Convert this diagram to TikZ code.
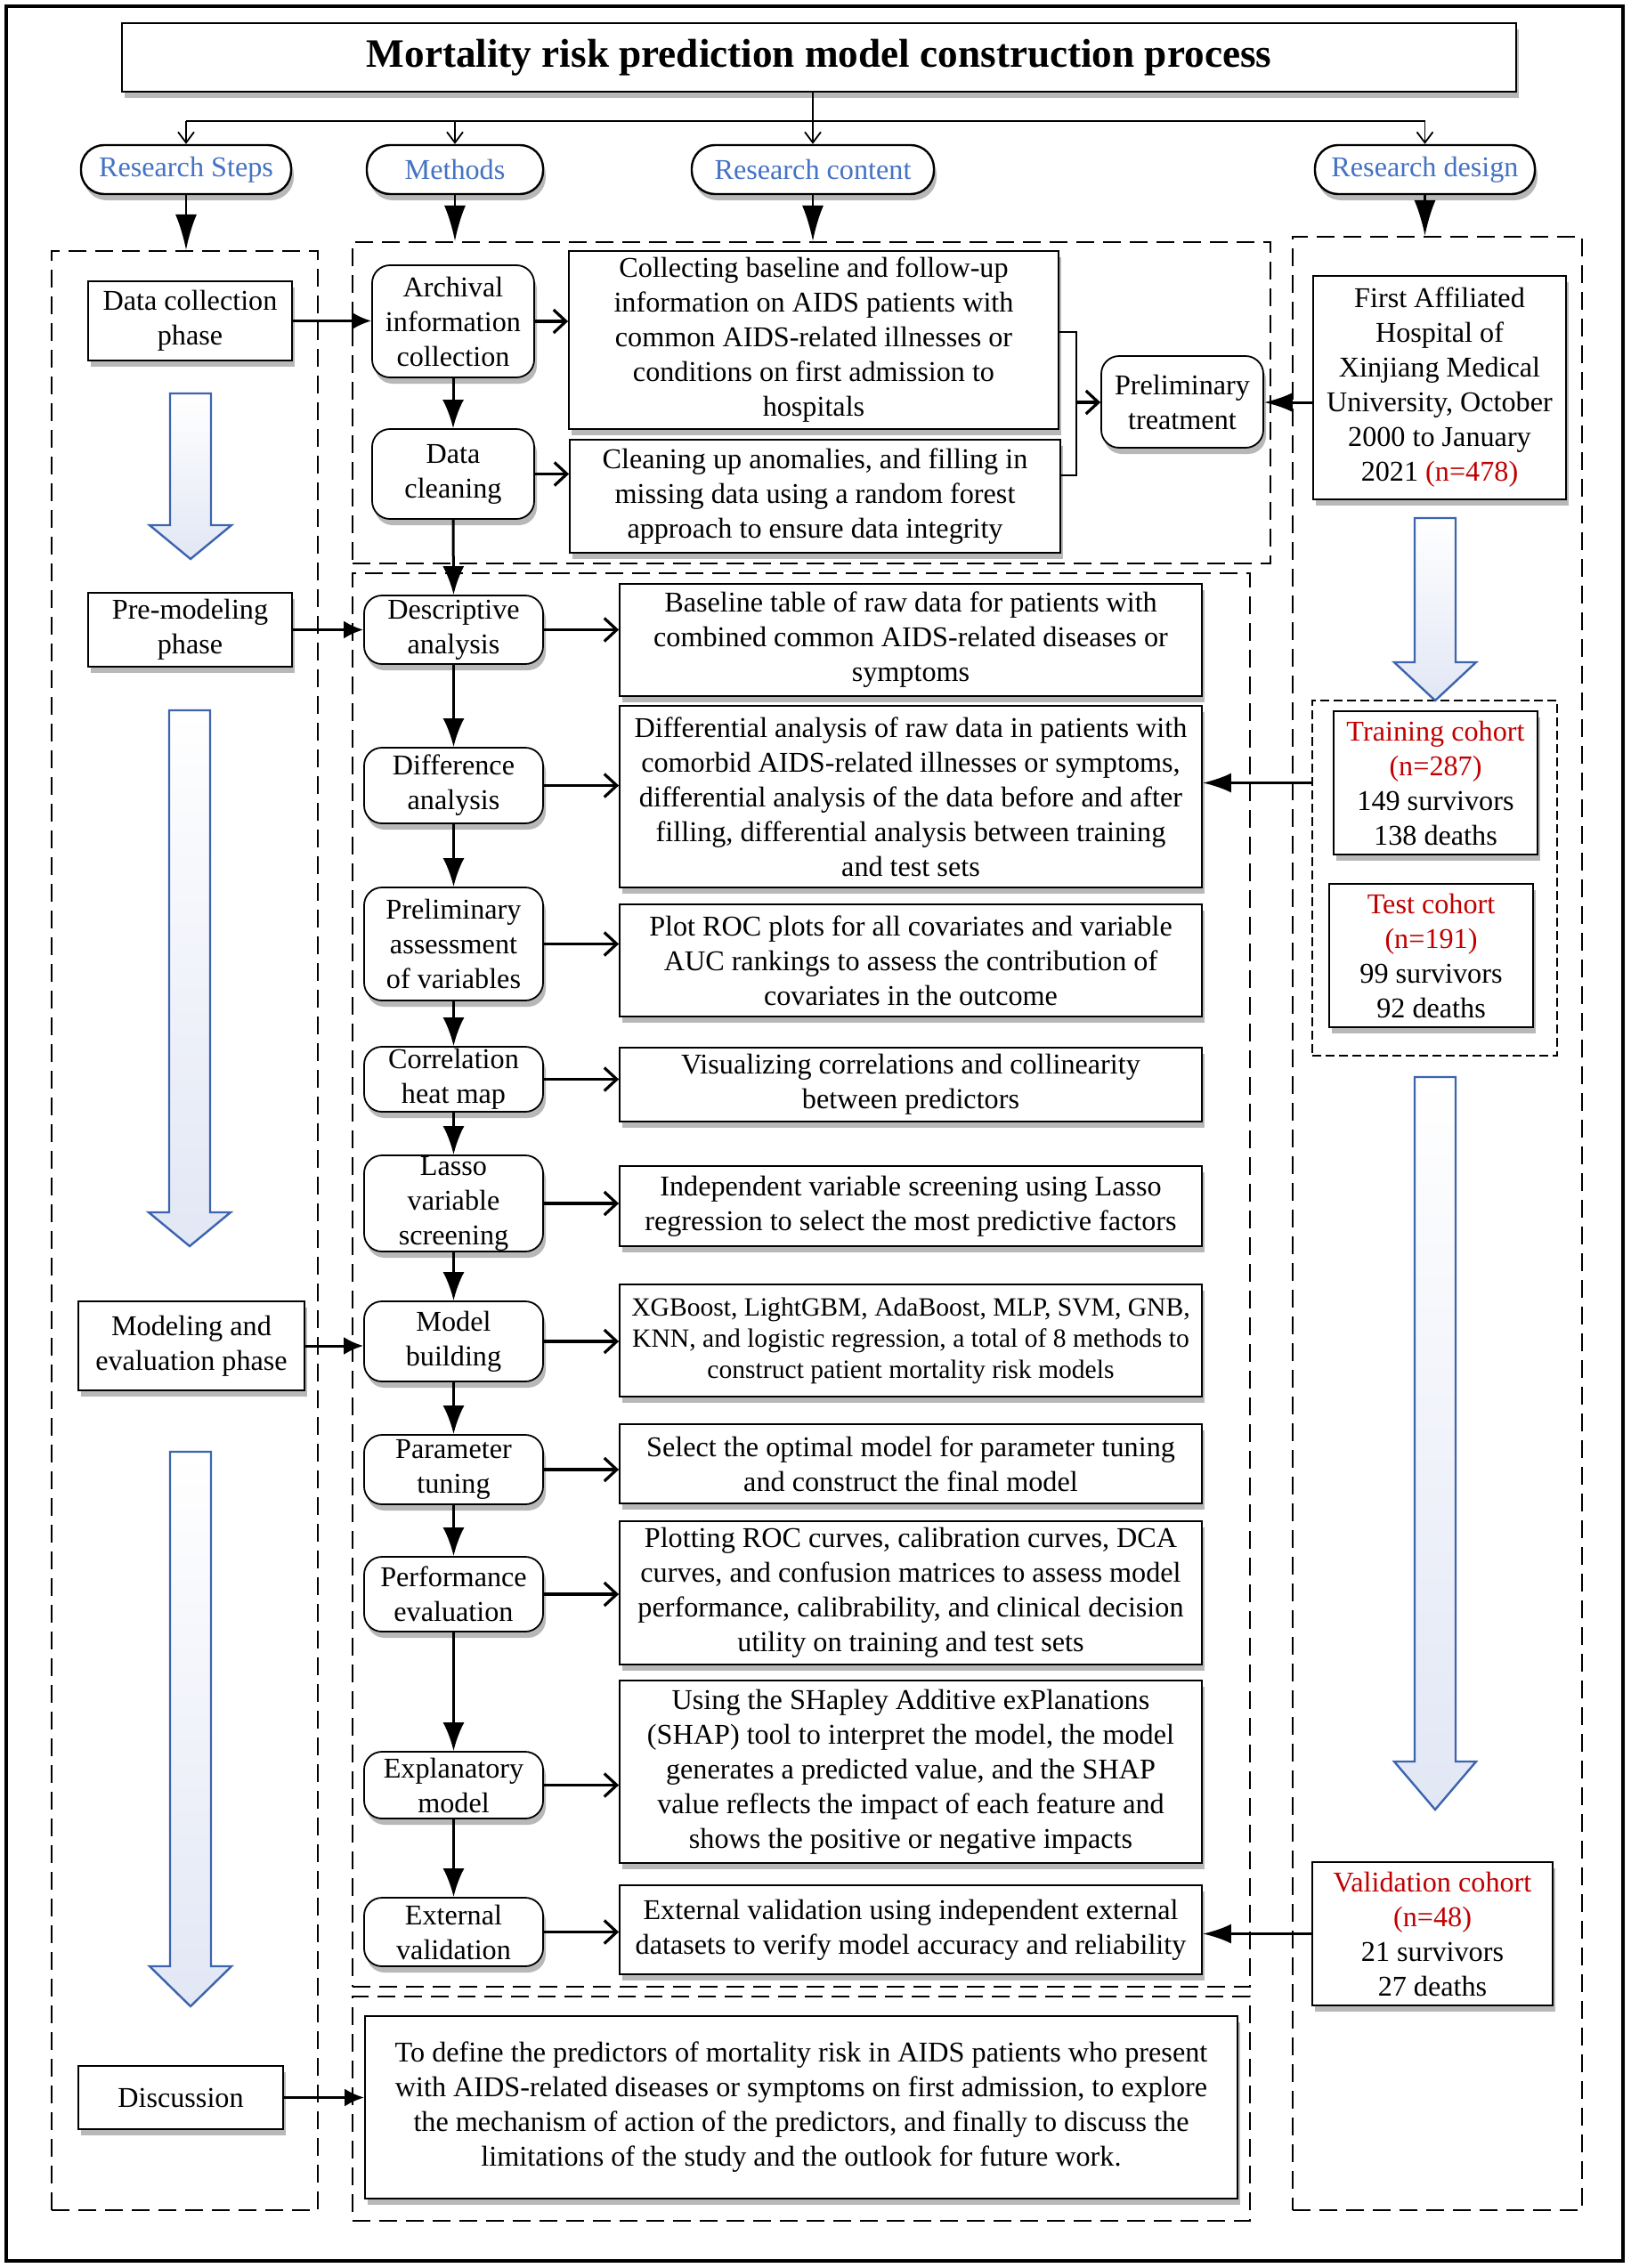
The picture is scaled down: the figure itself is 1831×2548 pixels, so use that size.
\documentclass[tikz,border=0pt]{standalone}
\usepackage{fontspec}
\setmainfont{Liberation Serif}
\usetikzlibrary{arrows.meta,shadows,calc}
\definecolor{pillblue}{RGB}{68,114,196}
\definecolor{darkred}{RGB}{192,0,0}
\definecolor{blkfill}{RGB}{226,231,245}
\definecolor{blkline}{RGB}{60,100,175}
\newcommand{\myblockarrow}[4]{% cx, top, headstart, tip
  \draw[blockarr] (#1-23,#2) -- (#1+23,#2) -- (#1+23,#3) -- (#1+46,#3) -- (#1,#4) -- (#1-46,#3) -- (#1-23,#3) -- cycle;}
\begin{document}
\begin{tikzpicture}[x=0.5pt,y=-0.5pt,
  bx/.style n args={4}{at={({(#1+#3)/2},{(#2+#4)/2})}, anchor=center, minimum width={(#3-#1)*0.5pt}, minimum height={(#4-#2)*0.5pt}},
  base/.style={inner sep=0pt, align=center, font=\fontsize{16.1}{19.5}\selectfont, fill=white, draw=black, line width=0.9pt},
  shad/.style={drop shadow={shadow xshift=1.5pt, shadow yshift=-3.5pt, opacity=0.28, fill=black}},
  cbox/.style={base, shad},
  rbox/.style={base, shad, rounded corners=10pt},
  pill/.style={base, shad, rounded corners=13pt, text=pillblue, line width=1.2pt},
  dbox/.style={draw, inner sep=0pt, line width=1.1pt, dash pattern=on 10pt off 5pt},
  dthin/.style={draw, inner sep=0pt, line width=0.6pt, dash pattern=on 5pt off 2.5pt},
  chain/.style={line width=1.5pt, -{Latex[length=16pt,width=12pt]}},
  toarrow/.style={line width=1.6pt, -{Straight Barb[length=7pt,width=13pt]}},
  feed/.style={line width=1.5pt, -{Latex[length=11pt,width=10pt]}},
  feedR/.style={line width=1.5pt, -{Latex[length=16pt,width=11pt]}},
  downarr/.style={line width=1.2pt, -{Latex[length=20pt,width=12pt]}},
  branch/.style={line width=0.9pt, -{Straight Barb[length=6pt,width=9pt]}},
  blockarr/.style={draw=blkline, line width=1.2pt, top color=white, bottom color=blkfill, line join=miter}
]
\useasboundingbox (0,0) rectangle (1831,2548);
\draw[line width=1.6pt] (7,7) rectangle (1823,2540);

% dashed frames
\node[dbox, bx={58}{282}{357}{2483}] (L) {};
\node[dbox, bx={396}{272}{1427}{633}] (M1) {};
\node[dbox, bx={396}{644}{1404}{2232}] (M2) {};
\node[dbox, bx={396}{2243}{1404}{2495}] (M3) {};
\node[dbox, bx={1452}{266}{1777}{2483}] (R) {};
\node[dthin, bx={1474}{787}{1749}{1186}] (cohort) {};

% title and pills
\node[cbox, bx={137}{26}{1703}{103}, font=\fontsize{22.6}{26}\selectfont\bfseries] (title) {Mortality risk prediction model construction process};
\node[pill, bx={91}{163}{327}{218}] (pRS) {Research Steps};
\node[pill, bx={412}{163}{610}{218}] (pM) {Methods};
\node[pill, bx={777}{163}{1049}{218}] (pRC) {Research content};
\node[pill, bx={1477}{163}{1724}{218}] (pRD) {Research design};

\coordinate (br) at (913,136);
\draw[line width=0.9pt] (pRC.north |- title.south) -- (br);
\draw[line width=1.4pt] (pRS.north |- br) -- (pRD.north |- br);
\draw[branch] (pRS.north |- br) -- (pRS.north);
\draw[branch] (pM.north |- br) -- (pM.north);
\draw[branch] (br) -- (pRC.north);
\draw[branch] (pRD.north |- br) -- (pRD.north);

\draw[downarr] (pRS.south) -- (pRS.south |- L.north);
\draw[downarr] (pM.south) -- (pM.south |- M1.north);
\draw[downarr] (pRC.south) -- (pRC.south |- M1.north);
\draw[downarr] (pRD.south) -- (pRD.south |- R.north);

% left column
\node[cbox, bx={99}{316}{328}{405}] (s1) {Data collection\\phase};
\node[cbox, bx={99}{666}{328}{749}] (s2) {Pre-modeling\\phase};
\node[cbox, bx={88}{1462}{342}{1562}] (s3) {Modeling and\\evaluation phase};
\node[cbox, bx={88}{2321}{318}{2392}] (s4) {Discussion};
\myblockarrow{214}{442}{590}{628}
\myblockarrow{213}{798}{1362}{1400}
\myblockarrow{214}{1631}{2209}{2254}

% methods column
\node[rbox, bx={418}{298}{600}{424}] (m1) {Archival\\information\\collection};
\node[rbox, bx={418}{482}{600}{583}] (m2) {Data\\cleaning};
\node[rbox, bx={409}{669}{610}{746}] (m3) {Descriptive\\analysis};
\node[rbox, bx={409}{840}{610}{925}] (m4) {Difference\\analysis};
\node[rbox, bx={409}{997}{610}{1124}] (m5) {Preliminary\\assessment\\of variables};
\node[rbox, bx={409}{1176}{610}{1249}] (m6) {Correlation\\heat map};
\node[rbox, bx={409}{1298}{610}{1406}] (m7) {Lasso\\variable\\screening};
\node[rbox, bx={409}{1462}{610}{1552}] (m8) {Model\\building};
\node[rbox, bx={409}{1612}{610}{1690}] (m9) {Parameter\\tuning};
\node[rbox, bx={409}{1749}{610}{1833}] (m10) {Performance\\evaluation};
\node[rbox, bx={409}{1968}{610}{2043}] (m11) {Explanatory\\model};
\node[rbox, bx={409}{2132}{610}{2209}] (m12) {External\\validation};

\foreach \a/\b in {m1/m2,m2/m3,m3/m4,m4/m5,m5/m6,m6/m7,m7/m8,m8/m9,m9/m10,m10/m11,m11/m12}
  \draw[chain] (\a.south) -- (\b.north);

% content column
\node[cbox, bx={639}{282}{1189}{482}] (c1) {Collecting baseline and follow-up\\information on AIDS patients with\\common AIDS-related illnesses or\\conditions on first admission to\\hospitals};
\node[cbox, bx={640}{494}{1191}{621}] (c2) {Cleaning up anomalies, and filling in\\missing data using a random forest\\approach to ensure data integrity};
\node[rbox, bx={1237}{400}{1419}{503}] (pt) {Preliminary\\treatment};
\node[cbox, bx={696}{656}{1350}{782}] (c3) {Baseline table of raw data for patients with\\combined common AIDS-related diseases or\\symptoms};
\node[cbox, bx={696}{793}{1350}{997}] (c4) {Differential analysis of raw data in patients with\\comorbid AIDS-related illnesses or symptoms,\\differential analysis of the data before and after\\filling, differential analysis between training\\and test sets};
\node[cbox, bx={696}{1016}{1350}{1142}] (c5) {Plot ROC plots for all covariates and variable\\AUC rankings to assess the contribution of\\covariates in the outcome};
\node[cbox, bx={696}{1177}{1350}{1260}] (c6) {Visualizing correlations and collinearity\\between predictors};
\node[cbox, bx={696}{1310}{1350}{1400}] (c7) {Independent variable screening using Lasso\\regression to select the most predictive factors};
\node[cbox, bx={696}{1443}{1350}{1569}, font=\fontsize{14.8}{17.5}\selectfont] (c8) {XGBoost, LightGBM, AdaBoost, MLP, SVM, GNB,\\KNN, and logistic regression, a total of 8 methods to\\construct patient mortality risk models};
\node[cbox, bx={696}{1600}{1350}{1689}] (c9) {Select the optimal model for parameter tuning\\and construct the final model};
\node[cbox, bx={696}{1709}{1350}{1870}] (c10) {Plotting ROC curves, calibration curves, DCA\\curves, and confusion matrices to assess model\\performance, calibrability, and clinical decision\\utility on training and test sets};
\node[cbox, bx={696}{1888}{1350}{2093}] (c11) {Using the SHapley Additive exPlanations\\(SHAP) tool to interpret the model, the model\\generates a predicted value, and the SHAP\\value reflects the impact of each feature and\\shows the positive or negative impacts};
\node[cbox, bx={696}{2118}{1350}{2218}] (c12) {External validation using independent external\\datasets to verify model accuracy and reliability};
\node[cbox, bx={410}{2265}{1390}{2470}] (c13) {To define the predictors of mortality risk in AIDS patients who present\\with AIDS-related diseases or symptoms on first admission, to explore\\the mechanism of action of the predictors, and finally to discuss the\\limitations of the study and the outlook for future work.};

% design column
\node[cbox, bx={1475}{310}{1759}{561}] (d1) {First Affiliated\\Hospital of\\Xinjiang Medical\\University, October\\2000 to January\\2021 \textcolor{darkred}{(n=478)}};
\node[cbox, bx={1498}{799}{1727}{960}] (d2) {\textcolor{darkred}{Training cohort}\\\textcolor{darkred}{(n=287)}\\149 survivors\\138 deaths};
\node[cbox, bx={1493}{993}{1722}{1154}] (d3) {\textcolor{darkred}{Test cohort}\\\textcolor{darkred}{(n=191)}\\99 survivors\\92 deaths};
\node[cbox, bx={1474}{2092}{1744}{2253}] (d4) {\textcolor{darkred}{Validation cohort}\\\textcolor{darkred}{(n=48)}\\21 survivors\\27 deaths};
\myblockarrow{1612}{582}{744}{787}
\myblockarrow{1612}{1210}{1979}{2033}

% method -> content arrows
\draw[toarrow] (m1.east) -- (m1.east -| c1.west);
\draw[toarrow] (m2.east) -- (m2.east -| c2.west);
\foreach \a/\b in {m3/c3,m4/c4,m5/c5,m6/c6,m7/c7,m8/c8,m9/c9,m10/c10,m11/c11,m12/c12}
  \draw[toarrow] (\a.east) -- (\a.east -| \b.west);

% bracket to preliminary treatment
\coordinate (bt) at (1209,373);
\coordinate (bb) at (1209,534);
\coordinate (bm) at (1209,452);
\draw[line width=1.4pt] (c1.east |- bt) -- (bt) -- (bb) -- (c2.east |- bb);
\draw[toarrow] (bm) -- (bm -| pt.west);
\draw[feedR] (d1.west |- bm) -- (bm -| pt.east);

% left -> methods
\draw[feed] (s1.east) -- (s1.east -| m1.west);
\draw[feed] (s2.east) -- (s2.east -| m3.west);
\draw[feed] (s3.east) -- (s3.east -| m8.west);
\draw[feed] (s4.east) -- (s4.east -| c13.west);

% design -> content
\draw[feedR] (d2.west -| cohort.west) -- (d2.west -| c4.east);
\draw[feedR] (d4.west) -- (d4.west -| c12.east);
\end{tikzpicture}
\end{document}
